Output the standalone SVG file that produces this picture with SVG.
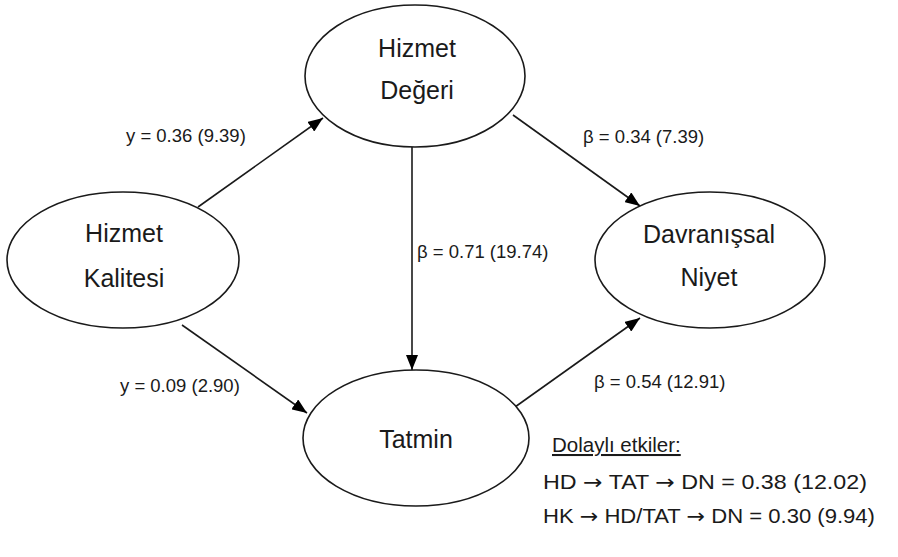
<svg xmlns="http://www.w3.org/2000/svg" width="898" height="557" viewBox="0 0 898 557">
<style>
.node ellipse{fill:#fff;stroke:#1a1a1a;stroke-width:1.6}
.nt{font-family:"Liberation Sans",Arial,sans-serif;font-size:25px;fill:#1a1a1a;text-anchor:middle}
.el{font-family:"Liberation Sans",Arial,sans-serif;font-size:18.5px;fill:#1a1a1a}
.bt{font-family:"Liberation Sans",Arial,sans-serif;font-size:20.5px;fill:#1a1a1a}
.ar{font-family:"DejaVu Sans",sans-serif}
#connectors line{stroke:#1a1a1a;stroke-width:1.6;marker-end:url(#ah)}
</style>
<defs>
<marker id="ah" markerUnits="userSpaceOnUse" markerWidth="16" markerHeight="12" refX="15" refY="6" orient="auto">
<path d="M0,0 L15,6 L0,12 z" fill="#000"/>
</marker>
</defs>
<rect width="898" height="557" fill="#fff"/>
<g id="connectors">
<line x1="198" y1="207" x2="323" y2="118"/>
<line x1="182" y1="325" x2="307" y2="413"/>
<line x1="412" y1="147" x2="412" y2="370"/>
<line x1="513" y1="115" x2="640" y2="206"/>
<line x1="515" y1="407" x2="640" y2="318"/>
</g>
<g id="node-hd" class="node">
<ellipse cx="415" cy="76" rx="110" ry="71"/>
<text class="nt" x="417" y="57">Hizmet</text>
<text class="nt" x="417" y="99">Değeri</text>
</g>
<g id="node-hk" class="node">
<ellipse cx="123" cy="260" rx="116" ry="68"/>
<text class="nt" x="124" y="242">Hizmet</text>
<text class="nt" x="124" y="287">Kalitesi</text>
</g>
<g id="node-dn" class="node">
<ellipse cx="710" cy="260" rx="115" ry="68"/>
<text class="nt" x="709" y="243">Davranışsal</text>
<text class="nt" x="709" y="286">Niyet</text>
</g>
<g id="node-tat" class="node">
<ellipse cx="416" cy="438" rx="113" ry="68"/>
<text class="nt" x="416" y="448">Tatmin</text>
</g>
<g id="edge-labels">
<text class="el" x="126" y="142">y = 0.36 (9.39)</text>
<text class="el" x="120" y="392">y = 0.09 (2.90)</text>
<text class="el" x="417" y="258">β = 0.71 (19.74)</text>
<text class="el" x="583" y="143">β = 0.34 (7.39)</text>
<text class="el" x="594" y="388">β = 0.54 (12.91)</text>
</g>
<g id="indirect">
<text class="bt" x="552" y="452" text-decoration="underline">Dolaylı etkiler:</text>
<text class="bt" x="543" y="489" textLength="324" lengthAdjust="spacingAndGlyphs">HD <tspan class="ar">→</tspan> TAT <tspan class="ar">→</tspan> DN = 0.38 (12.02)</text>
<text class="bt" x="543" y="523" textLength="332" lengthAdjust="spacingAndGlyphs">HK <tspan class="ar">→</tspan> HD/TAT <tspan class="ar">→</tspan> DN = 0.30 (9.94)</text>
</g>
</svg>
